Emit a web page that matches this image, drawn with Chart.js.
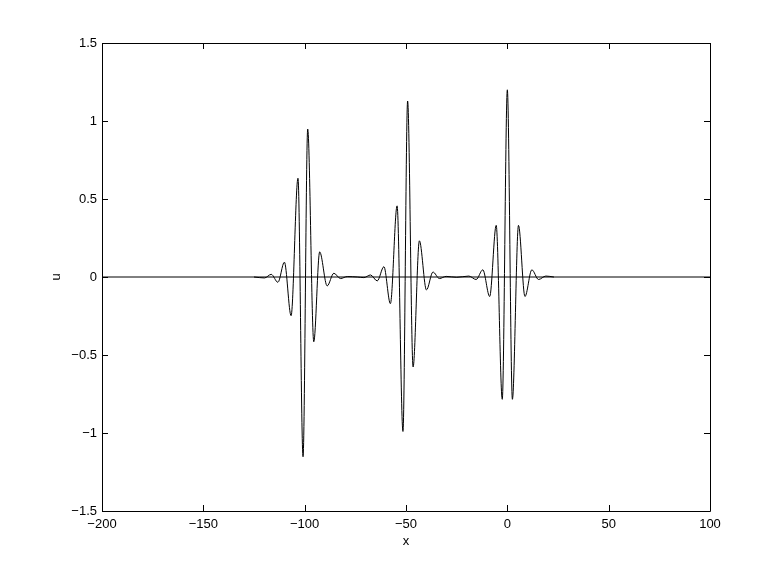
<!DOCTYPE html>
<html>
<head>
<meta charset="utf-8">
<title>u(x)</title>
<script src="https://cdn.jsdelivr.net/npm/chart.js@4/dist/chart.umd.min.js"></script>
<style>
    html, body { margin: 0; padding: 0; background: #fff; }
    canvas { display: block; }
</style>
</head>
<body>
<canvas id="waveChart" width="782" height="575"></canvas>
<script>
// extrema of the three packets
const xValues = [
    -125, -119.8, -116.5, -113.2, -110, -106.7, -103.3, -100.8, -98.5, -95.5,
    -92.6, -88.9, -85.6, -82.3, -79, -74,
    -70.8, -67.5, -64.2, -60.9, -57.7, -54.4, -51.5, -49.2, -46.5, -43.4,
    -39.9, -36.7, -33.5, -30.2, -25,
    -19, -15.4, -12.1, -8.7, -5.5, -2.5, 0, 2.5, 5.5, 8.7, 12.1, 15.4, 19, 23
];
const uValues = [
    0, -0.006, 0.017, -0.034, 0.095, -0.248, 0.633, -1.152, 0.948, -0.415,
    0.161, -0.057, 0.024, -0.01, 0.003, 0,
    -0.004, 0.013, -0.025, 0.066, -0.171, 0.456, -0.99, 1.128, -0.577, 0.232,
    -0.083, 0.032, -0.01, 0.004, -0.002,
    0.006, -0.016, 0.046, -0.125, 0.331, -0.784, 1.2, -0.784, 0.331, -0.125, 0.046, -0.016, 0.006, 0
];

const zeroLineX = [-200, 100];
const zeroLineU = [0, 0];

const xTicks = [-200, -150, -100, -50, 0, 50, 100];
const yTicks = [-1.5, -1, -0.5, 0, 0.5, 1, 1.5];

function toPoints(xs, ys) {
    return xs.map((x, i) => ({ x: x, y: ys[i] }));
}

function tickLabel(value) {
    let s = String(Math.round(value * 10) / 10);
    return s.replace('-', '\u2212');
}

// box round the axes with inward ticks on all four sides
const matlabAxes = {
    id: 'matlabAxes',
    afterDatasetsDraw(chart) {
        const ctx = chart.ctx;
        const a = chart.chartArea;
        const xs = chart.scales.x;
        const ys = chart.scales.y;
        const len = 6;

        ctx.save();
        ctx.strokeStyle = '#000';
        ctx.lineWidth = 1;
        ctx.beginPath();
        ctx.rect(a.left + 0.5, a.top + 0.5, a.right - a.left, a.bottom - a.top);

        xTicks.forEach(v => {
            let px = Math.round(xs.getPixelForValue(v)) + 0.5;
            ctx.moveTo(px, a.bottom);
            ctx.lineTo(px, a.bottom - len);
            ctx.moveTo(px, a.top);
            ctx.lineTo(px, a.top + len);
        });
        yTicks.forEach(v => {
            let py = Math.round(ys.getPixelForValue(v)) + 0.5;
            ctx.moveTo(a.left, py);
            ctx.lineTo(a.left + len, py);
            ctx.moveTo(a.right, py);
            ctx.lineTo(a.right - len, py);
        });
        ctx.stroke();
        ctx.restore();
    }
};

new Chart(document.getElementById('waveChart'), {
    type: 'line',
    data: {
        datasets: [
            {
                label: 'zero',
                data: toPoints(zeroLineX, zeroLineU),
                borderColor: '#000',
                borderWidth: 1,
                pointRadius: 0
            },
            {
                label: 'u',
                data: toPoints(xValues, uValues),
                borderColor: '#000',
                borderWidth: 1,
                pointRadius: 0,
                cubicInterpolationMode: 'monotone'
            }
        ]
    },
    options: {
        responsive: false,
        animation: false,
        layout: {
            padding: { left: 0, right: 72, top: 43, bottom: 0 }
        },
        plugins: {
            legend: { display: false },
            tooltip: { enabled: false }
        },
        scales: {
            x: {
                type: 'linear',
                min: -200,
                max: 100,
                afterBuildTicks: scale => { scale.ticks = xTicks.map(v => ({ value: v })); },
                afterFit: scale => { scale.height = 64; },
                grid: { display: false, drawTicks: false },
                border: { display: false },
                ticks: {
                    padding: 6,
                    color: '#000',
                    font: { family: 'Arial, "Liberation Sans", sans-serif', size: 13 },
                    maxRotation: 0,
                    callback: value => tickLabel(value)
                },
                title: {
                    display: true,
                    text: 'x',
                    color: '#000',
                    font: { family: 'Arial, "Liberation Sans", sans-serif', size: 13 },
                    padding: { top: 0, bottom: 26 }
                }
            },
            y: {
                type: 'linear',
                min: -1.5,
                max: 1.5,
                afterBuildTicks: scale => { scale.ticks = yTicks.map(v => ({ value: v })); },
                afterFit: scale => { scale.width = 102; },
                grid: { display: false, drawTicks: false },
                border: { display: false },
                ticks: {
                    padding: 5,
                    color: '#000',
                    font: { family: 'Arial, "Liberation Sans", sans-serif', size: 13 },
                    callback: value => tickLabel(value)
                },
                title: {
                    display: true,
                    text: 'u',
                    color: '#000',
                    font: { family: 'Arial, "Liberation Sans", sans-serif', size: 13 },
                    padding: { top: 49, bottom: 0 }
                }
            }
        }
    },
    plugins: [matlabAxes]
});
</script>
</body>
</html>
